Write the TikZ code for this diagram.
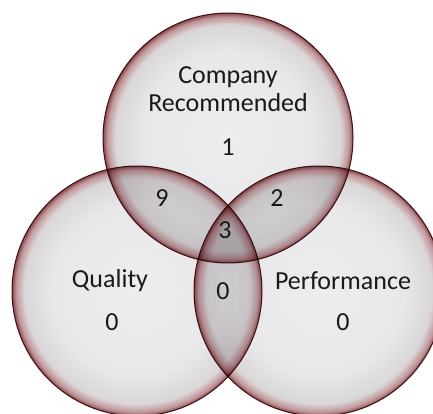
\documentclass[tikz,border=0pt]{standalone}
\usepackage{fontspec}
\setmainfont{Carlito}
\usetikzlibrary{positioning}

\definecolor{vennhi}{RGB}{237,236,238}
\definecolor{vennfill}{RGB}{232,231,233}
\definecolor{vennshade}{RGB}{218,214,216}
\definecolor{vennrim}{RGB}{192,150,154}
\definecolor{vennedge}{RGB}{140,72,78}
\definecolor{vennline}{RGB}{84,32,34}

\pgfdeclareradialshading{vennglow}{\pgfpoint{0bp}{0bp}}{%
  color(0bp)=(vennhi); color(17bp)=(vennfill); color(22.6bp)=(vennshade);
  color(24.2bp)=(vennrim); color(25bp)=(vennedge); color(50bp)=(vennedge)}

\begin{document}
\begin{tikzpicture}[
    x = 1pt, y = -1pt, % pixel units, y downwards
    font = \fontsize{26}{28}\selectfont,
    semithick % line style
    ]

    \tikzset{
    venn/.style = {
    circle,
    inner sep = 0pt,
    minimum size = 250pt,
    draw = vennline,
    line width = 1pt,
    shading = vennglow
    },
    vennlabel/.style = {
    align = center,
    text = black!90,
    inner sep = 0pt
    }
    }

    \useasboundingbox (0,0) rectangle (433,414);
    \fill[white] (0,0) rectangle (433,414);

    % the three sets
    \begin{scope}[blend group = multiply]
    \node[venn] (company) at (228,138) {};
    \node[venn] (quality) at (137,291) {};
    \node[venn] (perform) at (319,291) {};
    \end{scope}

    % set names and counts
    \node[vennlabel] (companyname) at (228,89) {Company\\Recommended};
    \node[vennlabel] (companyonly) at (228,147) {1};
    \node[vennlabel] (qualityname) at (110,281) {Quality};
    \node[vennlabel] (qualityonly) at (112,322) {0};
    \node[vennlabel] (performname) at (343,281) {Performance};
    \node[vennlabel] (performonly) at (343,322) {0};
    \node[vennlabel] (cq) at (162,198) {9};
    \node[vennlabel] (cp) at (277,198) {2};
    \node[vennlabel] (cqp) at (225,230) {3};
    \node[vennlabel] (qp) at (223,291) {0};
\end{tikzpicture}
\end{document}
